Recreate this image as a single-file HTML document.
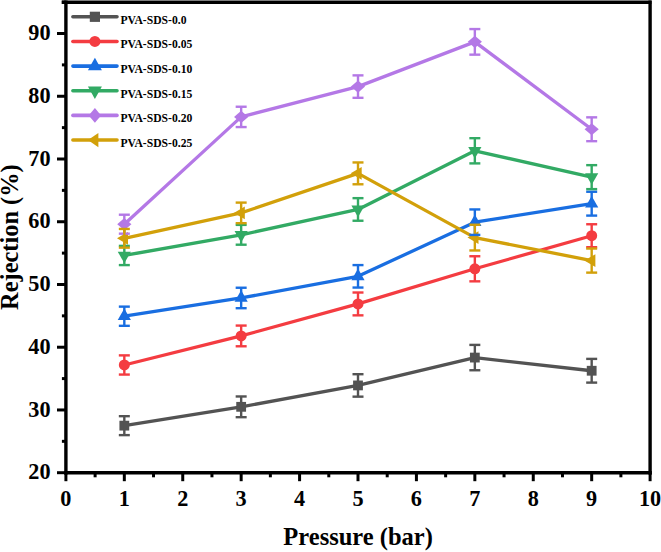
<!DOCTYPE html>
<html><head><meta charset="utf-8"><style>
html,body{margin:0;padding:0;background:#fff;}
body{width:661px;height:552px;overflow:hidden;position:relative;}
svg{position:absolute;left:0;top:0;}
text{font-family:"Liberation Serif",serif;font-weight:bold;fill:#000;}
</style></head><body>
<svg width="661" height="552" viewBox="0 0 661 552">
<g stroke="#000" stroke-width="3.4" fill="none">
<line x1="61.7" y1="2.2" x2="651.4" y2="2.2"/>
<line x1="65.90" y1="0.5" x2="65.90" y2="474.40"/>
<line x1="650.1" y1="0.5" x2="650.1" y2="474.40"/>
<line x1="64.20" y1="472.70" x2="651.80" y2="472.70"/>
<line x1="65.90" y1="472.70" x2="65.90" y2="481.2" stroke-width="3.0"/>
<line x1="124.32" y1="472.70" x2="124.32" y2="481.2" stroke-width="3.0"/>
<line x1="182.74" y1="472.70" x2="182.74" y2="481.2" stroke-width="3.0"/>
<line x1="241.16" y1="472.70" x2="241.16" y2="481.2" stroke-width="3.0"/>
<line x1="299.58" y1="472.70" x2="299.58" y2="481.2" stroke-width="3.0"/>
<line x1="358.00" y1="472.70" x2="358.00" y2="481.2" stroke-width="3.0"/>
<line x1="416.42" y1="472.70" x2="416.42" y2="481.2" stroke-width="3.0"/>
<line x1="474.84" y1="472.70" x2="474.84" y2="481.2" stroke-width="3.0"/>
<line x1="533.26" y1="472.70" x2="533.26" y2="481.2" stroke-width="3.0"/>
<line x1="591.68" y1="472.70" x2="591.68" y2="481.2" stroke-width="3.0"/>
<line x1="650.10" y1="472.70" x2="650.10" y2="481.2" stroke-width="3.0"/>
<line x1="95.11" y1="472.70" x2="95.11" y2="477.3" stroke-width="3.0"/>
<line x1="153.53" y1="472.70" x2="153.53" y2="477.3" stroke-width="3.0"/>
<line x1="211.95" y1="472.70" x2="211.95" y2="477.3" stroke-width="3.0"/>
<line x1="270.37" y1="472.70" x2="270.37" y2="477.3" stroke-width="3.0"/>
<line x1="328.79" y1="472.70" x2="328.79" y2="477.3" stroke-width="3.0"/>
<line x1="387.21" y1="472.70" x2="387.21" y2="477.3" stroke-width="3.0"/>
<line x1="445.63" y1="472.70" x2="445.63" y2="477.3" stroke-width="3.0"/>
<line x1="504.05" y1="472.70" x2="504.05" y2="477.3" stroke-width="3.0"/>
<line x1="562.47" y1="472.70" x2="562.47" y2="477.3" stroke-width="3.0"/>
<line x1="620.89" y1="472.70" x2="620.89" y2="477.3" stroke-width="3.0"/>
<line x1="57" y1="472.70" x2="65.90" y2="472.70" stroke-width="3.0"/>
<line x1="57" y1="409.96" x2="65.90" y2="409.96" stroke-width="3.0"/>
<line x1="57" y1="347.22" x2="65.90" y2="347.22" stroke-width="3.0"/>
<line x1="57" y1="284.48" x2="65.90" y2="284.48" stroke-width="3.0"/>
<line x1="57" y1="221.74" x2="65.90" y2="221.74" stroke-width="3.0"/>
<line x1="57" y1="159.00" x2="65.90" y2="159.00" stroke-width="3.0"/>
<line x1="57" y1="96.26" x2="65.90" y2="96.26" stroke-width="3.0"/>
<line x1="57" y1="33.52" x2="65.90" y2="33.52" stroke-width="3.0"/>
<line x1="61.9" y1="441.33" x2="65.90" y2="441.33" stroke-width="3.0"/>
<line x1="61.9" y1="378.59" x2="65.90" y2="378.59" stroke-width="3.0"/>
<line x1="61.9" y1="315.85" x2="65.90" y2="315.85" stroke-width="3.0"/>
<line x1="61.9" y1="253.11" x2="65.90" y2="253.11" stroke-width="3.0"/>
<line x1="61.9" y1="190.37" x2="65.90" y2="190.37" stroke-width="3.0"/>
<line x1="61.9" y1="127.63" x2="65.90" y2="127.63" stroke-width="3.0"/>
<line x1="61.9" y1="64.89" x2="65.90" y2="64.89" stroke-width="3.0"/>
<line x1="61.9" y1="2.15" x2="65.90" y2="2.15" stroke-width="3.0"/>
</g>
<text transform="translate(65.90,505.6) scale(0.98,1.02)" font-size="22.7" text-anchor="middle">0</text>
<text transform="translate(124.32,505.6) scale(0.98,1.02)" font-size="22.7" text-anchor="middle">1</text>
<text transform="translate(182.74,505.6) scale(0.98,1.02)" font-size="22.7" text-anchor="middle">2</text>
<text transform="translate(241.16,505.6) scale(0.98,1.02)" font-size="22.7" text-anchor="middle">3</text>
<text transform="translate(299.58,505.6) scale(0.98,1.02)" font-size="22.7" text-anchor="middle">4</text>
<text transform="translate(358.00,505.6) scale(0.98,1.02)" font-size="22.7" text-anchor="middle">5</text>
<text transform="translate(416.42,505.6) scale(0.98,1.02)" font-size="22.7" text-anchor="middle">6</text>
<text transform="translate(474.84,505.6) scale(0.98,1.02)" font-size="22.7" text-anchor="middle">7</text>
<text transform="translate(533.26,505.6) scale(0.98,1.02)" font-size="22.7" text-anchor="middle">8</text>
<text transform="translate(591.68,505.6) scale(0.98,1.02)" font-size="22.7" text-anchor="middle">9</text>
<text transform="translate(650.10,505.6) scale(0.98,1.02)" font-size="22.7" text-anchor="middle">10</text>
<text transform="translate(50.5,479.30) scale(0.98,1.02)" font-size="22.7" text-anchor="end">20</text>
<text transform="translate(50.5,416.56) scale(0.98,1.02)" font-size="22.7" text-anchor="end">30</text>
<text transform="translate(50.5,353.82) scale(0.98,1.02)" font-size="22.7" text-anchor="end">40</text>
<text transform="translate(50.5,291.08) scale(0.98,1.02)" font-size="22.7" text-anchor="end">50</text>
<text transform="translate(50.5,228.34) scale(0.98,1.02)" font-size="22.7" text-anchor="end">60</text>
<text transform="translate(50.5,165.60) scale(0.98,1.02)" font-size="22.7" text-anchor="end">70</text>
<text transform="translate(50.5,102.86) scale(0.98,1.02)" font-size="22.7" text-anchor="end">80</text>
<text transform="translate(50.5,40.12) scale(0.98,1.02)" font-size="22.7" text-anchor="end">90</text>
<text transform="translate(358.1,544.8)" font-size="24.5" text-anchor="middle">Pressure (bar)</text>
<text transform="translate(18.2,237.1) rotate(-90)" font-size="24.4" text-anchor="middle">Rejection (%)</text>
<polyline points="124.32,425.64 241.16,406.82 358.00,385.43 474.84,357.57 591.68,370.75" fill="none" stroke="#535353" stroke-width="3.3" stroke-linejoin="round"/>
<rect x="119.42" y="420.75" width="9.80" height="9.80" fill="#535353"/>
<rect x="236.26" y="401.92" width="9.80" height="9.80" fill="#535353"/>
<rect x="353.10" y="380.53" width="9.80" height="9.80" fill="#535353"/>
<rect x="469.94" y="352.67" width="9.80" height="9.80" fill="#535353"/>
<rect x="586.78" y="365.85" width="9.80" height="9.80" fill="#535353"/>
<polyline points="124.32,364.98 241.16,335.93 358.00,303.93 474.84,268.79 591.68,235.73" fill="none" stroke="#f43c41" stroke-width="3.3" stroke-linejoin="round"/>
<circle cx="124.32" cy="364.98" r="5.50" fill="#f43c41"/>
<circle cx="241.16" cy="335.93" r="5.50" fill="#f43c41"/>
<circle cx="358.00" cy="303.93" r="5.50" fill="#f43c41"/>
<circle cx="474.84" cy="268.79" r="5.50" fill="#f43c41"/>
<circle cx="591.68" cy="235.73" r="5.50" fill="#f43c41"/>
<polyline points="124.32,316.23 241.16,297.97 358.00,276.32 474.84,222.18 591.68,203.67" fill="none" stroke="#196ee1" stroke-width="3.3" stroke-linejoin="round"/>
<polygon points="124.32,308.49 130.92,320.09 117.72,320.09" fill="#196ee1"/>
<polygon points="241.16,290.24 247.76,301.84 234.56,301.84" fill="#196ee1"/>
<polygon points="358.00,268.59 364.60,280.19 351.40,280.19" fill="#196ee1"/>
<polygon points="474.84,214.45 481.44,226.05 468.24,226.05" fill="#196ee1"/>
<polygon points="591.68,195.94 598.28,207.54 585.08,207.54" fill="#196ee1"/>
<polyline points="124.32,255.49 241.16,234.79 358.00,209.44 474.84,150.78 591.68,177.13" fill="none" stroke="#32aa64" stroke-width="3.3" stroke-linejoin="round"/>
<polygon points="124.32,263.23 130.92,251.63 117.72,251.63" fill="#32aa64"/>
<polygon points="241.16,242.52 247.76,230.92 234.56,230.92" fill="#32aa64"/>
<polygon points="358.00,217.18 364.60,205.58 351.40,205.58" fill="#32aa64"/>
<polygon points="474.84,158.51 481.44,146.91 468.24,146.91" fill="#32aa64"/>
<polygon points="591.68,184.87 598.28,173.27 585.08,173.27" fill="#32aa64"/>
<polyline points="124.32,224.19 241.16,116.90 358.00,86.60 474.84,41.86 591.68,129.26" fill="none" stroke="#b478e6" stroke-width="3.3" stroke-linejoin="round"/>
<polygon points="124.32,218.09 131.42,224.19 124.32,230.29 117.22,224.19" fill="#b478e6"/>
<polygon points="241.16,110.80 248.26,116.90 241.16,123.00 234.06,116.90" fill="#b478e6"/>
<polygon points="358.00,80.50 365.10,86.60 358.00,92.70 350.90,86.60" fill="#b478e6"/>
<polygon points="474.84,35.76 481.94,41.86 474.84,47.96 467.74,41.86" fill="#b478e6"/>
<polygon points="591.68,123.16 598.78,129.26 591.68,135.36 584.58,129.26" fill="#b478e6"/>
<polyline points="124.32,238.30 241.16,212.89 358.00,173.37 474.84,237.61 591.68,260.58" fill="none" stroke="#d2a00a" stroke-width="3.3" stroke-linejoin="round"/>
<polygon points="116.99,238.30 127.99,231.90 127.99,244.70" fill="#d2a00a"/>
<polygon points="233.83,212.89 244.83,206.49 244.83,219.29" fill="#d2a00a"/>
<polygon points="350.67,173.37 361.67,166.97 361.67,179.77" fill="#d2a00a"/>
<polygon points="467.51,237.61 478.51,231.21 478.51,244.01" fill="#d2a00a"/>
<polygon points="584.35,260.58 595.35,254.18 595.35,266.98" fill="#d2a00a"/>
<g stroke="#535353" stroke-width="2.4"><line x1="124.32" y1="416.17" x2="124.32" y2="435.12"/><line x1="241.16" y1="396.47" x2="241.16" y2="417.18"/><line x1="358.00" y1="374.20" x2="358.00" y2="396.66"/><line x1="474.84" y1="344.90" x2="474.84" y2="370.25"/><line x1="591.68" y1="358.89" x2="591.68" y2="382.61"/></g>
<g stroke="#f43c41" stroke-width="2.4"><line x1="124.32" y1="355.38" x2="124.32" y2="374.57"/><line x1="241.16" y1="325.57" x2="241.16" y2="346.28"/><line x1="358.00" y1="292.51" x2="358.00" y2="315.35"/><line x1="474.84" y1="256.25" x2="474.84" y2="281.34"/><line x1="591.68" y1="224.25" x2="591.68" y2="247.21"/></g>
<g stroke="#196ee1" stroke-width="2.4"><line x1="124.32" y1="306.63" x2="124.32" y2="325.83"/><line x1="241.16" y1="287.74" x2="241.16" y2="308.20"/><line x1="358.00" y1="265.09" x2="358.00" y2="287.55"/><line x1="474.84" y1="209.44" x2="474.84" y2="234.92"/><line x1="591.68" y1="191.75" x2="591.68" y2="215.59"/></g>
<g stroke="#32aa64" stroke-width="2.4"><line x1="124.32" y1="245.89" x2="124.32" y2="265.09"/><line x1="241.16" y1="224.88" x2="241.16" y2="244.70"/><line x1="358.00" y1="198.15" x2="358.00" y2="220.74"/><line x1="474.84" y1="138.17" x2="474.84" y2="163.39"/><line x1="591.68" y1="165.15" x2="591.68" y2="189.12"/></g>
<g stroke="#b478e6" stroke-width="2.4"><line x1="124.32" y1="214.71" x2="124.32" y2="233.66"/><line x1="241.16" y1="106.74" x2="241.16" y2="127.07"/><line x1="358.00" y1="75.37" x2="358.00" y2="97.83"/><line x1="474.84" y1="29.07" x2="474.84" y2="54.66"/><line x1="591.68" y1="117.34" x2="591.68" y2="141.18"/></g>
<g stroke="#d2a00a" stroke-width="2.4"><line x1="124.32" y1="228.96" x2="124.32" y2="247.65"/><line x1="241.16" y1="202.60" x2="241.16" y2="223.18"/><line x1="358.00" y1="162.45" x2="358.00" y2="184.28"/><line x1="474.84" y1="224.75" x2="474.84" y2="250.47"/><line x1="591.68" y1="248.53" x2="591.68" y2="272.62"/></g>
<g stroke="#535353" stroke-width="2.4"><line x1="118.82" y1="416.17" x2="129.82" y2="416.17"/><line x1="118.82" y1="435.12" x2="129.82" y2="435.12"/><line x1="235.66" y1="396.47" x2="246.66" y2="396.47"/><line x1="235.66" y1="417.18" x2="246.66" y2="417.18"/><line x1="352.50" y1="374.20" x2="363.50" y2="374.20"/><line x1="352.50" y1="396.66" x2="363.50" y2="396.66"/><line x1="469.34" y1="344.90" x2="480.34" y2="344.90"/><line x1="469.34" y1="370.25" x2="480.34" y2="370.25"/><line x1="586.18" y1="358.89" x2="597.18" y2="358.89"/><line x1="586.18" y1="382.61" x2="597.18" y2="382.61"/></g>
<g stroke="#f43c41" stroke-width="2.4"><line x1="118.82" y1="355.38" x2="129.82" y2="355.38"/><line x1="118.82" y1="374.57" x2="129.82" y2="374.57"/><line x1="235.66" y1="325.57" x2="246.66" y2="325.57"/><line x1="235.66" y1="346.28" x2="246.66" y2="346.28"/><line x1="352.50" y1="292.51" x2="363.50" y2="292.51"/><line x1="352.50" y1="315.35" x2="363.50" y2="315.35"/><line x1="469.34" y1="256.25" x2="480.34" y2="256.25"/><line x1="469.34" y1="281.34" x2="480.34" y2="281.34"/><line x1="586.18" y1="224.25" x2="597.18" y2="224.25"/><line x1="586.18" y1="247.21" x2="597.18" y2="247.21"/></g>
<g stroke="#196ee1" stroke-width="2.4"><line x1="118.82" y1="306.63" x2="129.82" y2="306.63"/><line x1="118.82" y1="325.83" x2="129.82" y2="325.83"/><line x1="235.66" y1="287.74" x2="246.66" y2="287.74"/><line x1="235.66" y1="308.20" x2="246.66" y2="308.20"/><line x1="352.50" y1="265.09" x2="363.50" y2="265.09"/><line x1="352.50" y1="287.55" x2="363.50" y2="287.55"/><line x1="469.34" y1="209.44" x2="480.34" y2="209.44"/><line x1="469.34" y1="234.92" x2="480.34" y2="234.92"/><line x1="586.18" y1="191.75" x2="597.18" y2="191.75"/><line x1="586.18" y1="215.59" x2="597.18" y2="215.59"/></g>
<g stroke="#32aa64" stroke-width="2.4"><line x1="118.82" y1="245.89" x2="129.82" y2="245.89"/><line x1="118.82" y1="265.09" x2="129.82" y2="265.09"/><line x1="235.66" y1="224.88" x2="246.66" y2="224.88"/><line x1="235.66" y1="244.70" x2="246.66" y2="244.70"/><line x1="352.50" y1="198.15" x2="363.50" y2="198.15"/><line x1="352.50" y1="220.74" x2="363.50" y2="220.74"/><line x1="469.34" y1="138.17" x2="480.34" y2="138.17"/><line x1="469.34" y1="163.39" x2="480.34" y2="163.39"/><line x1="586.18" y1="165.15" x2="597.18" y2="165.15"/><line x1="586.18" y1="189.12" x2="597.18" y2="189.12"/></g>
<g stroke="#b478e6" stroke-width="2.4"><line x1="118.82" y1="214.71" x2="129.82" y2="214.71"/><line x1="118.82" y1="233.66" x2="129.82" y2="233.66"/><line x1="235.66" y1="106.74" x2="246.66" y2="106.74"/><line x1="235.66" y1="127.07" x2="246.66" y2="127.07"/><line x1="352.50" y1="75.37" x2="363.50" y2="75.37"/><line x1="352.50" y1="97.83" x2="363.50" y2="97.83"/><line x1="469.34" y1="29.07" x2="480.34" y2="29.07"/><line x1="469.34" y1="54.66" x2="480.34" y2="54.66"/><line x1="586.18" y1="117.34" x2="597.18" y2="117.34"/><line x1="586.18" y1="141.18" x2="597.18" y2="141.18"/></g>
<g stroke="#d2a00a" stroke-width="2.4"><line x1="118.82" y1="228.96" x2="129.82" y2="228.96"/><line x1="118.82" y1="247.65" x2="129.82" y2="247.65"/><line x1="235.66" y1="202.60" x2="246.66" y2="202.60"/><line x1="235.66" y1="223.18" x2="246.66" y2="223.18"/><line x1="352.50" y1="162.45" x2="363.50" y2="162.45"/><line x1="352.50" y1="184.28" x2="363.50" y2="184.28"/><line x1="469.34" y1="224.75" x2="480.34" y2="224.75"/><line x1="469.34" y1="250.47" x2="480.34" y2="250.47"/><line x1="586.18" y1="248.53" x2="597.18" y2="248.53"/><line x1="586.18" y1="272.62" x2="597.18" y2="272.62"/></g>
<g stroke="#d2a00a" stroke-width="2.4"><line x1="124.32" y1="229.96" x2="124.32" y2="246.65"/></g>
<line x1="72.9" y1="16.80" x2="117" y2="16.80" stroke="#535353" stroke-width="3.6" stroke-linecap="round"/>
<rect x="89.80" y="11.70" width="10.20" height="10.20" fill="#535353"/>
<text transform="translate(120.4,23.70) scale(1,1.077)" font-size="11.65">PVA-SDS-0.0</text>
<line x1="72.9" y1="41.45" x2="117" y2="41.45" stroke="#f43c41" stroke-width="3.6" stroke-linecap="round"/>
<circle cx="94.90" cy="41.45" r="5.50" fill="#f43c41"/>
<text transform="translate(120.4,48.35) scale(1,1.077)" font-size="11.65">PVA-SDS-0.05</text>
<line x1="72.9" y1="66.10" x2="117" y2="66.10" stroke="#196ee1" stroke-width="3.6" stroke-linecap="round"/>
<polygon points="94.90,57.83 101.90,70.23 87.90,70.23" fill="#196ee1"/>
<text transform="translate(120.4,73.00) scale(1,1.077)" font-size="11.65">PVA-SDS-0.10</text>
<line x1="72.9" y1="90.75" x2="117" y2="90.75" stroke="#32aa64" stroke-width="3.6" stroke-linecap="round"/>
<polygon points="94.90,99.02 101.90,86.62 87.90,86.62" fill="#32aa64"/>
<text transform="translate(120.4,97.65) scale(1,1.077)" font-size="11.65">PVA-SDS-0.15</text>
<line x1="72.9" y1="115.40" x2="117" y2="115.40" stroke="#b478e6" stroke-width="3.6" stroke-linecap="round"/>
<polygon points="94.90,108.00 101.10,115.40 94.90,122.80 88.70,115.40" fill="#b478e6"/>
<text transform="translate(120.4,122.30) scale(1,1.077)" font-size="11.65">PVA-SDS-0.20</text>
<line x1="72.9" y1="140.05" x2="117" y2="140.05" stroke="#d2a00a" stroke-width="3.6" stroke-linecap="round"/>
<polygon points="87.97,140.05 98.37,132.95 98.37,147.15" fill="#d2a00a"/>
<text transform="translate(120.4,146.95) scale(1,1.077)" font-size="11.65">PVA-SDS-0.25</text>
</svg></body></html>
